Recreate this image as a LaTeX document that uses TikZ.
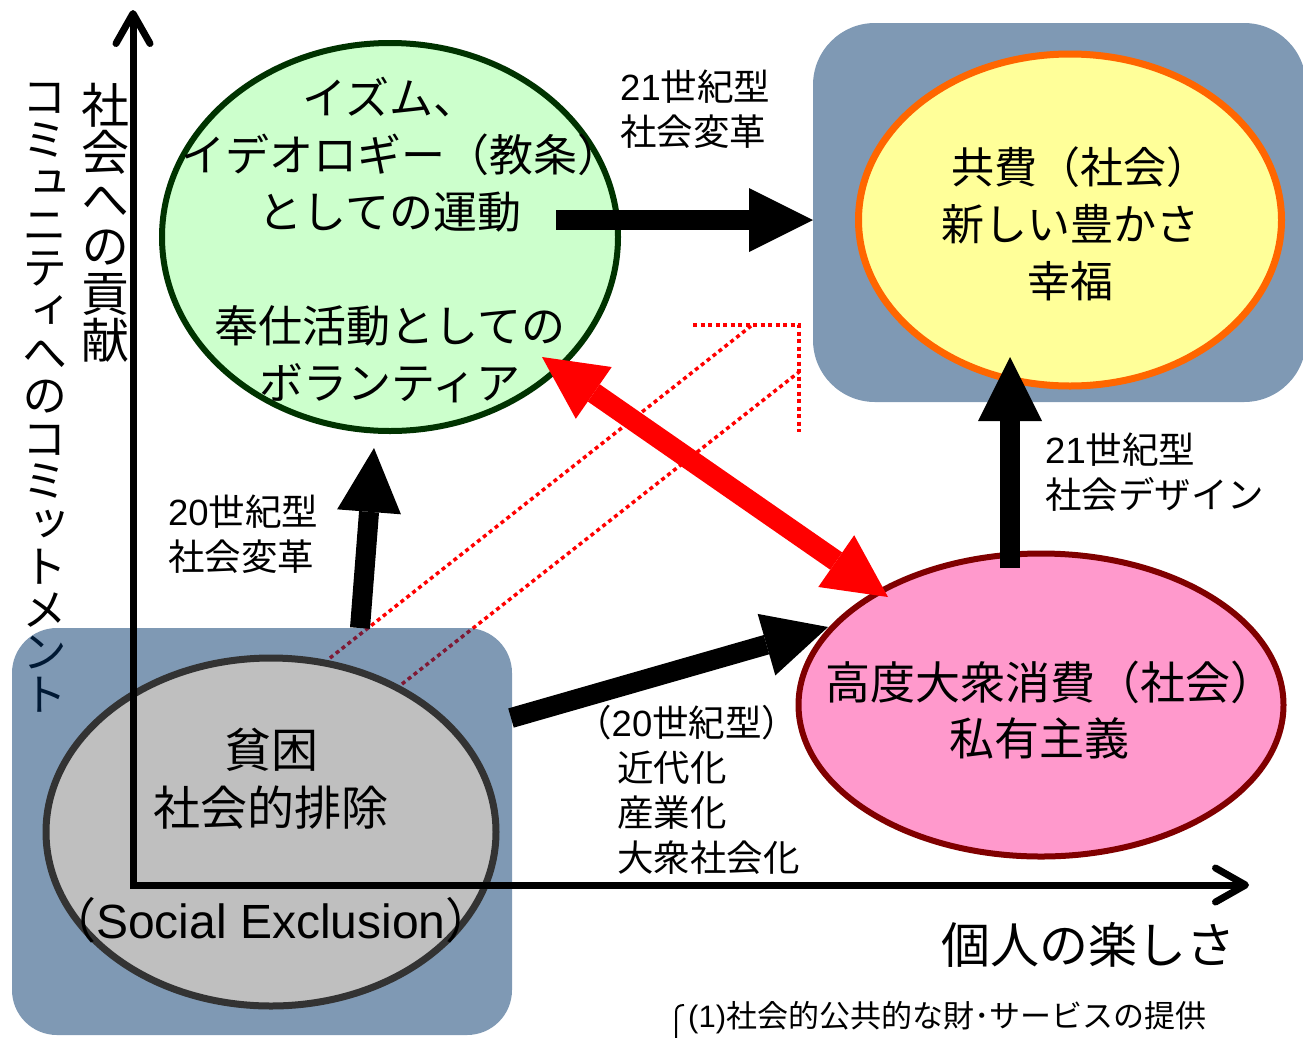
\documentclass[tikz,border=0pt]{standalone}
\usepackage{fontspec}
\setmainfont{Liberation Sans}
\newfontfamily\jp{Noto Sans CJK JP}
\newfontfamily\jpv[RawFeature=+vert]{Noto Sans CJK JP}
\newfontfamily\lat{Liberation Sans}
\usetikzlibrary{shapes.geometric,arrows.meta}
\newcommand\tightls{\lineskiplimit-60pt\relax}
\newcommand\halfclose{\makebox[0.5em][l]{）}}
\definecolor{boxnavy}{RGB}{0,51,105}
\definecolor{greenfill}{RGB}{204,255,204}
\definecolor{greenline}{RGB}{0,51,0}
\definecolor{yellowfill}{RGB}{255,255,153}
\definecolor{orangeline}{RGB}{255,102,0}
\definecolor{pinkfill}{RGB}{255,153,204}
\definecolor{maroonline}{RGB}{128,0,0}
\definecolor{grayfill}{RGB}{191,191,191}
\definecolor{grayline}{RGB}{51,51,51}
\tikzset{
  boxbg/.style={rectangle, fill=boxnavy, fill opacity=0.5, inner sep=0pt, outer sep=0pt},
  blob/.style={ellipse, inner sep=0pt, outer sep=0pt},
  bigarrow/.style={line width=20pt, -{Triangle[length=64pt,width=64pt,line width=0pt]}},
  redarrow/.style={red, line width=21pt, {Triangle[length=63pt,width=63pt,line width=0pt]}-{Triangle[length=63pt,width=63pt,line width=0pt]}},
  axisline/.style={line width=7pt, line cap=rect, -{Straight Barb[length=30pt,width=34pt,round]}},
  dots/.style={red, line width=3.5pt, dash pattern=on 4pt off 3.5pt},
  bigtext/.style={font=\jp\fontsize{44}{57}\selectfont, align=center, inner sep=0pt},
  smalltext/.style={font=\jp\fontsize{36.5}{45}\selectfont, align=left, anchor=west, inner sep=0pt},
  vtext/.style={align=center, anchor=north, inner sep=0pt},
}
\begin{document}
\begin{tikzpicture}[x=1pt,y=-1pt]
\useasboundingbox (0,0) rectangle (1303,1037);

% vertical axis labels
\node[vtext, font=\jpv\fontsize{45}{42.7}\selectfont\tightls] (vcommit) at (45,83)
  {コ\\ミ\\ュ\\ニ\\テ\\ィ\\へ\\の\\コ\\ミ\\ッ\\ト\\メ\\ン\\ト};
\node[vtext, font=\jpv\fontsize{48}{47}\selectfont\tightls] (vsociety) at (105.5,83)
  {社\\会\\へ\\の\\貢\\献};

% dotted hollow arrow
\coordinate (d1a) at (330,658);
\coordinate (d1b) at (751,326);
\coordinate (d2a) at (402,684);
\coordinate (d2b) at (799,372);
\coordinate (d3a) at (693,325);
\coordinate (d3b) at (799,325);
\coordinate (d3c) at (799,432);
\draw[dots] (d1a) -- (d1b);
\draw[dots] (d2a) -- (d2b);
\draw[dots] (d3a) -- (d3b) -- (d3c);

% background boxes
\node[boxbg, rounded corners=45pt, minimum width=500pt, minimum height=407pt, anchor=north west] (blbox) at (12,628) {};
\node[boxbg, rounded corners=62pt, minimum width=493pt, minimum height=379pt, anchor=north west] (trbox) at (813,23) {};

% ellipses
\node[blob, fill=greenfill, draw=greenline, line width=6pt, minimum width=456pt, minimum height=388pt] (green) at (390,237) {};
\node[blob, fill=yellowfill, draw=orangeline, line width=7pt, minimum width=423pt, minimum height=332pt] (yellow) at (1070,220) {};
\node[blob, fill=pinkfill, draw=maroonline, line width=6pt, minimum width=485pt, minimum height=303pt] (pink) at (1041,705) {};
\node[blob, fill=grayfill, draw=grayline, line width=7pt, minimum width=450pt, minimum height=348pt] (gray) at (271,832) {};

% arrows
\coordinate (a1s) at (556,220);
\coordinate (a1e) at (813,220);
\coordinate (a2s) at (360,628);
\coordinate (a2e) at (374,448);
\coordinate (a3s) at (511,718);
\coordinate (a3e) at (828,627);
\coordinate (a4s) at (1010,568);
\coordinate (a4e) at (1010,357);
\coordinate (r1) at (542,357);
\coordinate (r2) at (888,597);
\draw[bigarrow] (a1s) -- (a1e);
\draw[bigarrow] (a2s) -- (a2e);
\draw[bigarrow] (a3s) -- (a3e);
\draw[bigarrow] (a4s) -- (a4e);
\draw[redarrow] (r1) -- (r2);

% axes
\coordinate (origin) at (133,885);
\coordinate (ytip) at (133,10);
\coordinate (xtip) at (1249,885);
\draw[axisline] (origin) -- (ytip);
\draw[axisline] (origin) -- (xtip);

% ellipse texts
\node[bigtext] (gtext) at (390,240) {イズム、\\イデオロギー（教条\halfclose\\としての運動\\[57pt]奉仕活動としての\\ボランティア};
\node[bigtext, font=\jp\fontsize{43}{57}\selectfont] (ytext) at (1070,224) {共費（社会\halfclose\\新しい豊かさ\\幸福};
\node[bigtext, font=\jp\fontsize{45}{56}\selectfont] (ptext) at (1039,710) {高度大衆消費（社会\halfclose\\私有主義};
\node[bigtext, font=\jp\fontsize{47}{58}\selectfont] (grtext) at (271,779) {貧困\\社会的排除};
\node[inner sep=0pt, font=\fontsize{48}{48}\selectfont] (grsub) at (271,920) {{\jp （}Social Exclusion{\jp ）}};

% side labels
\node[smalltext] (l21a) at (620,109) {{\lat 21}世紀型\\社会変革};
\node[smalltext] (l20a) at (168,534) {{\lat 20}世紀型\\社会変革};
\node[smalltext] (l21b) at (1045,472) {{\lat 21}世紀型\\社会デザイン};
\node[smalltext] (l20b) at (575,790) {（{\lat 20}世紀型）\\\hspace*{42pt}近代化\\\hspace*{42pt}産業化\\\hspace*{42pt}大衆社会化};

\node[inner sep=0pt, font=\jp\fontsize{49}{49}\selectfont] (xlabel) at (1088,945) {個人の楽しさ};

\node[inner sep=0pt, anchor=west, font=\jp\fontsize{31}{31}\selectfont] (note) at (688,1018) {{\lat (1)}社会的公共的な財･サービスの提供};
\draw[line width=2pt] (676,1045) -- (676,1012) .. controls (676,1007) and (679,1005) .. (684,1005);
\end{tikzpicture}
\end{document}
